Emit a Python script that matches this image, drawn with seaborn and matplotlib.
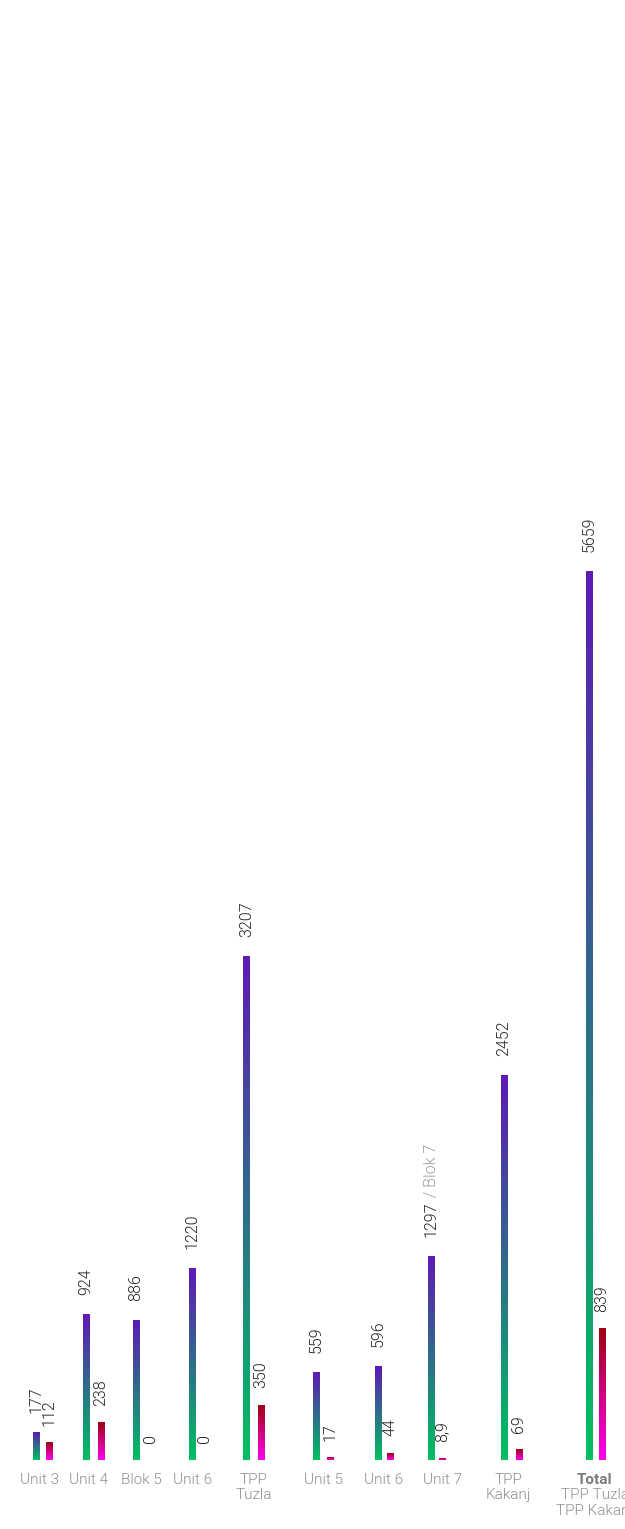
import numpy as np
import pandas as pd
import matplotlib
matplotlib.use("Agg")
import matplotlib.pyplot as plt
from matplotlib.colors import to_rgb
import seaborn as sns

# Data
categories = ["Unit 3", "Unit 4", "Blok 5", "Unit 6", "TPP\nTuzla",
              "Unit 5", "Unit 6", "Unit 7", "TPP\nKakanj", "Total"]
primary_values = [177, 924, 886, 1220, 3207, 559, 596, 1297, 2452, 5659]
secondary_values = [112, 238, 0, 0, 350, 17, 44, 8.9, 69, 839]
primary_labels = ["177", "924", "886", "1220", "3207", "559", "596", "1297", "2452", "5659"]
secondary_labels = ["112", "238", "0", "0", "350", "17", "44", "8,9", "69", "839"]
total_sublabel = "TPP Tuzla\nTPP Kakanj"

# Layout (pixel-based x axis)
primary_x = [36, 86, 136, 192, 246.5, 316.5, 378.5, 431.5, 504, 589]
secondary_x = [49, 101, 150, 205, 261, 330, 390, 442, 519, 602]
label_x = [40, 89, 141.5, 193, 254, 323, 384, 443, 508.5, 595]
BAR_W = 6.5

sns.set_theme(style="white")
plt.rcParams["font.family"] = ["Roboto", "DejaVu Sans"]

W, H = 625, 1529
fig = plt.figure(figsize=(W / 100, H / 100), dpi=100)
base_px = 69
ax = fig.add_axes([0, base_px / H, 1, 1 - base_px / H])

df_p = pd.DataFrame({"x": primary_x, "value": primary_values})
df_s = pd.DataFrame({"x": secondary_x, "value": secondary_values})

sns.barplot(data=df_p, x="x", y="value", native_scale=True, orient="x",
            color="#5e1ab5", ax=ax, errorbar=None)
n_p = len(ax.patches)
sns.barplot(data=df_s, x="x", y="value", native_scale=True, orient="x",
            color="#a00010", ax=ax, errorbar=None)

prim_grad = (to_rgb("#00c060"), to_rgb("#5e1ab5"))
sec_grad = (to_rgb("#ff00f0"), to_rgb("#9e0010"))


def gradient_fill(patch, cols):
    x0 = patch.get_x()
    w = patch.get_width()
    cx = x0 + w / 2
    h = patch.get_height()
    patch.set_x(cx - BAR_W / 2)
    patch.set_width(BAR_W)
    patch.set_visible(False)
    if h <= 0:
        return
    t = np.linspace(0, 1, 256)[:, None]
    c0 = np.array(cols[0])
    c1 = np.array(cols[1])
    img = (c0[None, None, :] * (1 - t[..., None]) + c1[None, None, :] * t[..., None])
    ax.imshow(img, extent=[cx - BAR_W / 2, cx + BAR_W / 2, 0, h],
              origin="lower", aspect="auto", interpolation="bilinear", zorder=2)


for i, p in enumerate(ax.patches):
    gradient_fill(p, prim_grad if i < n_p else sec_grad)

ax.set_xlim(0, W)
ax.set_ylim(0, 9300)
ax.axis("off")

val_kw = dict(textcoords="offset points", rotation=90, ha="center", va="bottom",
              fontsize=11.5, fontweight=300, color="#222222", annotation_clip=False)

for x, v, lab in zip(primary_x, primary_values, primary_labels):
    t = ax.annotate(lab, xy=(x, v), xytext=(0, 14), **val_kw)
    if lab == "1297":
        ax.annotate(" / Blok 7", xy=(0.5, 1), xycoords=t, xytext=(0, 0),
                    textcoords="offset points", rotation=90, ha="center",
                    va="bottom", fontsize=11.5, fontweight=300, color="#a0a0a0",
                    annotation_clip=False)

for x, v, lab in zip(secondary_x, secondary_values, secondary_labels):
    ax.annotate(lab, xy=(x, v), xytext=(0, 12), **val_kw)

cat_kw = dict(textcoords="offset points", ha="center", va="top",
              fontsize=11, fontweight=300, color="#8f8f8f", linespacing=1.15,
              annotation_clip=False)
for x, lab in zip(label_x, categories):
    if lab == "Total":
        ax.annotate("Total", xy=(x, 0), xytext=(0, -9),
                    **{**cat_kw, "fontweight": "bold", "color": "#7a7a7a"})
        ax.annotate(total_sublabel, xy=(x, 0), xytext=(0, -20.5), **cat_kw)
    else:
        ax.annotate(lab, xy=(x, 0), xytext=(0, -9), **cat_kw)

fig.savefig("out.png", dpi=100)
